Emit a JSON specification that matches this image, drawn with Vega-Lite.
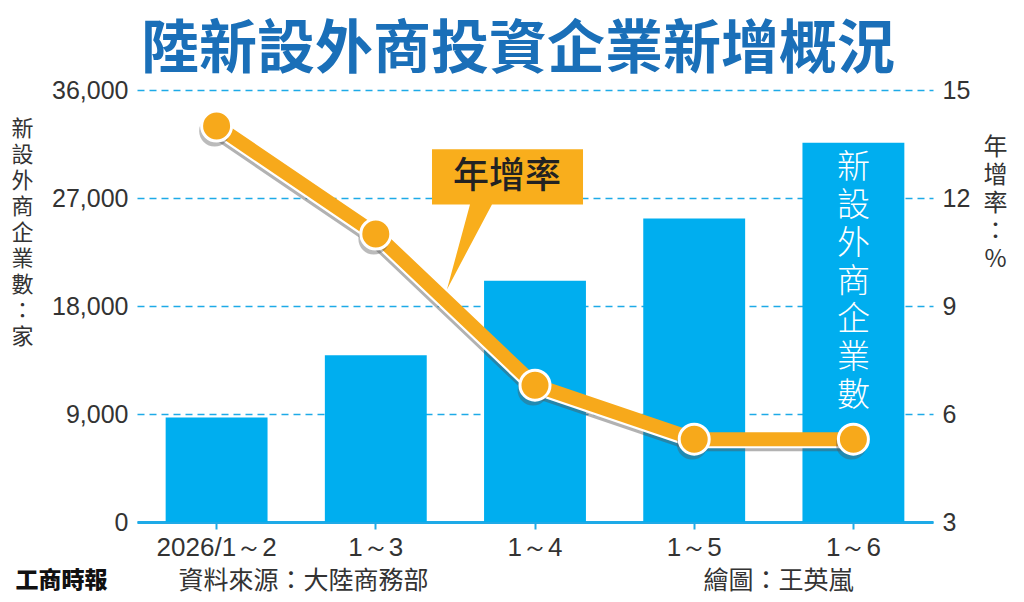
{
  "$schema": "https://vega.github.io/schema/vega-lite/v6.json",
  "width": 796,
  "height": 432,
  "autosize": {"type": "none"},
  "padding": {"left": 137, "top": 90, "right": 91, "bottom": 80},
  "background": "white",
  "title": {
    "text": "陸新設外商投資企業新增概況",
    "font": "Noto Sans CJK TC",
    "fontSize": 58,
    "fontWeight": "bold",
    "color": "#1a6fb8",
    "anchor": "middle",
    "frame": "group",
    "dx": -17,
    "offset": -2
  },
  "datasets": {
    "main": [
      {"period": "2026/1～2", "count": 8700, "rate": 14.0},
      {"period": "1～3", "count": 13900, "rate": 11.0},
      {"period": "1～4", "count": 20100, "rate": 6.8},
      {"period": "1～5", "count": 25300, "rate": 5.3},
      {"period": "1～6", "count": 31600, "rate": 5.3}
    ],
    "barnote": [
      {"period": "1～6", "count": 31600, "label": "新\n設\n外\n商\n企\n業\n數"}
    ],
    "linenote": [
      {"period": "1～4", "rate": 12.6, "label": "年增率"}
    ]
  },
  "data": {"name": "main"},
  "layer": [
    {
      "mark": {"type": "bar", "color": "#00aeef"},
      "encoding": {
        "x": {
          "field": "period",
          "type": "nominal",
          "sort": null,
          "scale": {
            "domain": ["2026/1～2", "1～3", "1～4", "1～5", "1～6"],
            "paddingInner": 0.36,
            "paddingOuter": 0.18
          },
          "axis": {
            "orient": "bottom",
            "labelAngle": 0,
            "labelFontSize": 26,
            "labelColor": "#333",
            "labelPadding": 5,
            "bandPosition": 0.5,
            "tickSize": 7,
            "tickWidth": 2,
            "tickColor": "#1eaae7",
            "domainColor": "#1eaae7",
            "domainWidth": 3,
            "title": "資料來源：大陸商務部",
            "titleX": 41,
            "titleY": 58,
            "titleAlign": "left",
            "titleBaseline": "middle",
            "titleFontSize": 25,
            "titleFontWeight": "normal",
            "titleColor": "#333"
          }
        },
        "y": {
          "field": "count",
          "type": "quantitative",
          "scale": {"domain": [0, 36000], "nice": false},
          "axis": {
            "orient": "left",
            "values": [0, 9000, 18000, 27000, 36000],
            "format": ",d",
            "labelFontSize": 25,
            "labelColor": "#333",
            "labelPadding": 9,
            "ticks": false,
            "domain": false,
            "grid": true,
            "gridColor": "#1eaae7",
            "gridDash": [7, 5],
            "gridWidth": 1.5,
            "title": ["新", "設", "外", "商", "企", "業", "數", "：", "家"],
            "titleAngle": 0,
            "titleX": -115,
            "titleY": 28,
            "titleAlign": "center",
            "titleBaseline": "top",
            "titleFontSize": 22,
            "titleLineHeight": 26,
            "titleFontWeight": "normal",
            "titleColor": "#333"
          }
        }
      }
    },
    {
      "data": {"name": "barnote"},
      "mark": {
        "type": "text",
        "color": "white",
        "font": "Noto Sans CJK TC",
        "fontSize": 33,
        "fontWeight": 300,
        "lineHeight": 38,
        "lineBreak": "\n",
        "baseline": "top",
        "align": "center",
        "dy": 9
      },
      "encoding": {
        "x": {"field": "period", "type": "nominal", "sort": null, "axis": null},
        "y": {"field": "count", "type": "quantitative", "scale": {"domain": [0, 36000], "nice": false}, "axis": null},
        "text": {"field": "label"}
      }
    },
    {
      "mark": {"type": "line", "color": "#555", "opacity": 0.45, "strokeWidth": 14, "strokeJoin": "round", "xOffset": -2, "yOffset": 5},
      "encoding": {
        "x": {"field": "period", "type": "nominal", "sort": null, "axis": null},
        "y": {"field": "rate", "type": "quantitative", "scale": {"domain": [3, 15], "nice": false, "zero": false}, "axis": null}
      }
    },
    {
      "mark": {"type": "line", "color": "white", "strokeWidth": 14, "strokeJoin": "round", "xOffset": -1, "yOffset": 2},
      "encoding": {
        "x": {"field": "period", "type": "nominal", "sort": null, "axis": null},
        "y": {"field": "rate", "type": "quantitative", "scale": {"domain": [3, 15], "nice": false, "zero": false}, "axis": null}
      }
    },
    {
      "mark": {"type": "line", "color": "#f7a91b", "strokeWidth": 14, "strokeJoin": "round"},
      "encoding": {
        "x": {
          "field": "period",
          "type": "nominal",
          "sort": null,
          "axis": {
            "orient": "bottom",
            "labels": false,
            "ticks": false,
            "domain": false,
            "grid": false,
            "title": "繪圖：王英嵐",
            "titleX": 566,
            "titleY": 58,
            "titleAlign": "left",
            "titleBaseline": "middle",
            "titleFontSize": 25,
            "titleFontWeight": "normal",
            "titleColor": "#333"
          }
        },
        "y": {
          "field": "rate",
          "type": "quantitative",
          "scale": {"domain": [3, 15], "nice": false, "zero": false},
          "axis": {
            "orient": "right",
            "values": [3, 6, 9, 12, 15],
            "labelFontSize": 25,
            "labelColor": "#333",
            "labelPadding": 9,
            "ticks": false,
            "domain": false,
            "grid": false,
            "title": ["年", "增", "率", "：", "%"],
            "titleAngle": 0,
            "titleX": 62,
            "titleY": 45,
            "titleAlign": "center",
            "titleBaseline": "top",
            "titleFontSize": 24,
            "titleLineHeight": 28,
            "titleFontWeight": "normal",
            "titleColor": "#333"
          }
        }
      }
    },
    {
      "mark": {"type": "point", "shape": "circle", "filled": true, "color": "#555", "opacity": 0.4, "size": 950, "xOffset": -2, "yOffset": 5},
      "encoding": {
        "x": {"field": "period", "type": "nominal", "sort": null, "axis": null},
        "y": {"field": "rate", "type": "quantitative", "scale": {"domain": [3, 15], "nice": false, "zero": false}, "axis": null}
      }
    },
    {
      "mark": {"type": "point", "shape": "circle", "filled": true, "fill": "#f7a91b", "stroke": "white", "strokeWidth": 3, "opacity": 1, "size": 900},
      "encoding": {
        "x": {"field": "period", "type": "nominal", "sort": null, "axis": null},
        "y": {"field": "rate", "type": "quantitative", "scale": {"domain": [3, 15], "nice": false, "zero": false}, "axis": null}
      }
    },
    {
      "data": {"name": "linenote"},
      "mark": {
        "type": "point",
        "shape": "M -1.364 -0.358 L 0.636 -0.358 L 0.636 0.371 L -0.57 0.371 L -1.166 1.497 L -0.861 0.371 L -1.364 0.371 Z",
        "filled": true,
        "color": "#f9ae1c",
        "opacity": 1,
        "size": 22801
      },
      "encoding": {
        "x": {
          "field": "period",
          "type": "nominal",
          "sort": null,
          "axis": {
            "orient": "bottom",
            "labels": false,
            "ticks": false,
            "domain": false,
            "grid": false,
            "title": "工商時報",
            "titleX": -122,
            "titleY": 58,
            "titleAlign": "left",
            "titleBaseline": "middle",
            "titleFontSize": 23,
            "titleFontWeight": 900,
            "titleColor": "#111"
          }
        },
        "y": {"field": "rate", "type": "quantitative", "scale": {"domain": [3, 15], "nice": false, "zero": false}, "axis": null}
      }
    },
    {
      "data": {"name": "linenote"},
      "mark": {
        "type": "text",
        "font": "Noto Sans CJK TC",
        "fontSize": 36,
        "fontWeight": 500,
        "color": "#222",
        "align": "center",
        "baseline": "middle",
        "dx": -28,
        "dy": 1
      },
      "encoding": {
        "x": {"field": "period", "type": "nominal", "sort": null, "axis": null},
        "y": {"field": "rate", "type": "quantitative", "scale": {"domain": [3, 15], "nice": false, "zero": false}, "axis": null},
        "text": {"field": "label"}
      }
    }
  ],
  "resolve": {"scale": {"y": "independent"}, "axis": {"x": "independent"}},
  "config": {
    "view": {"stroke": null},
    "axis": {"labelFont": "Liberation Sans", "titleFont": "Noto Sans CJK TC"}
  }
}
